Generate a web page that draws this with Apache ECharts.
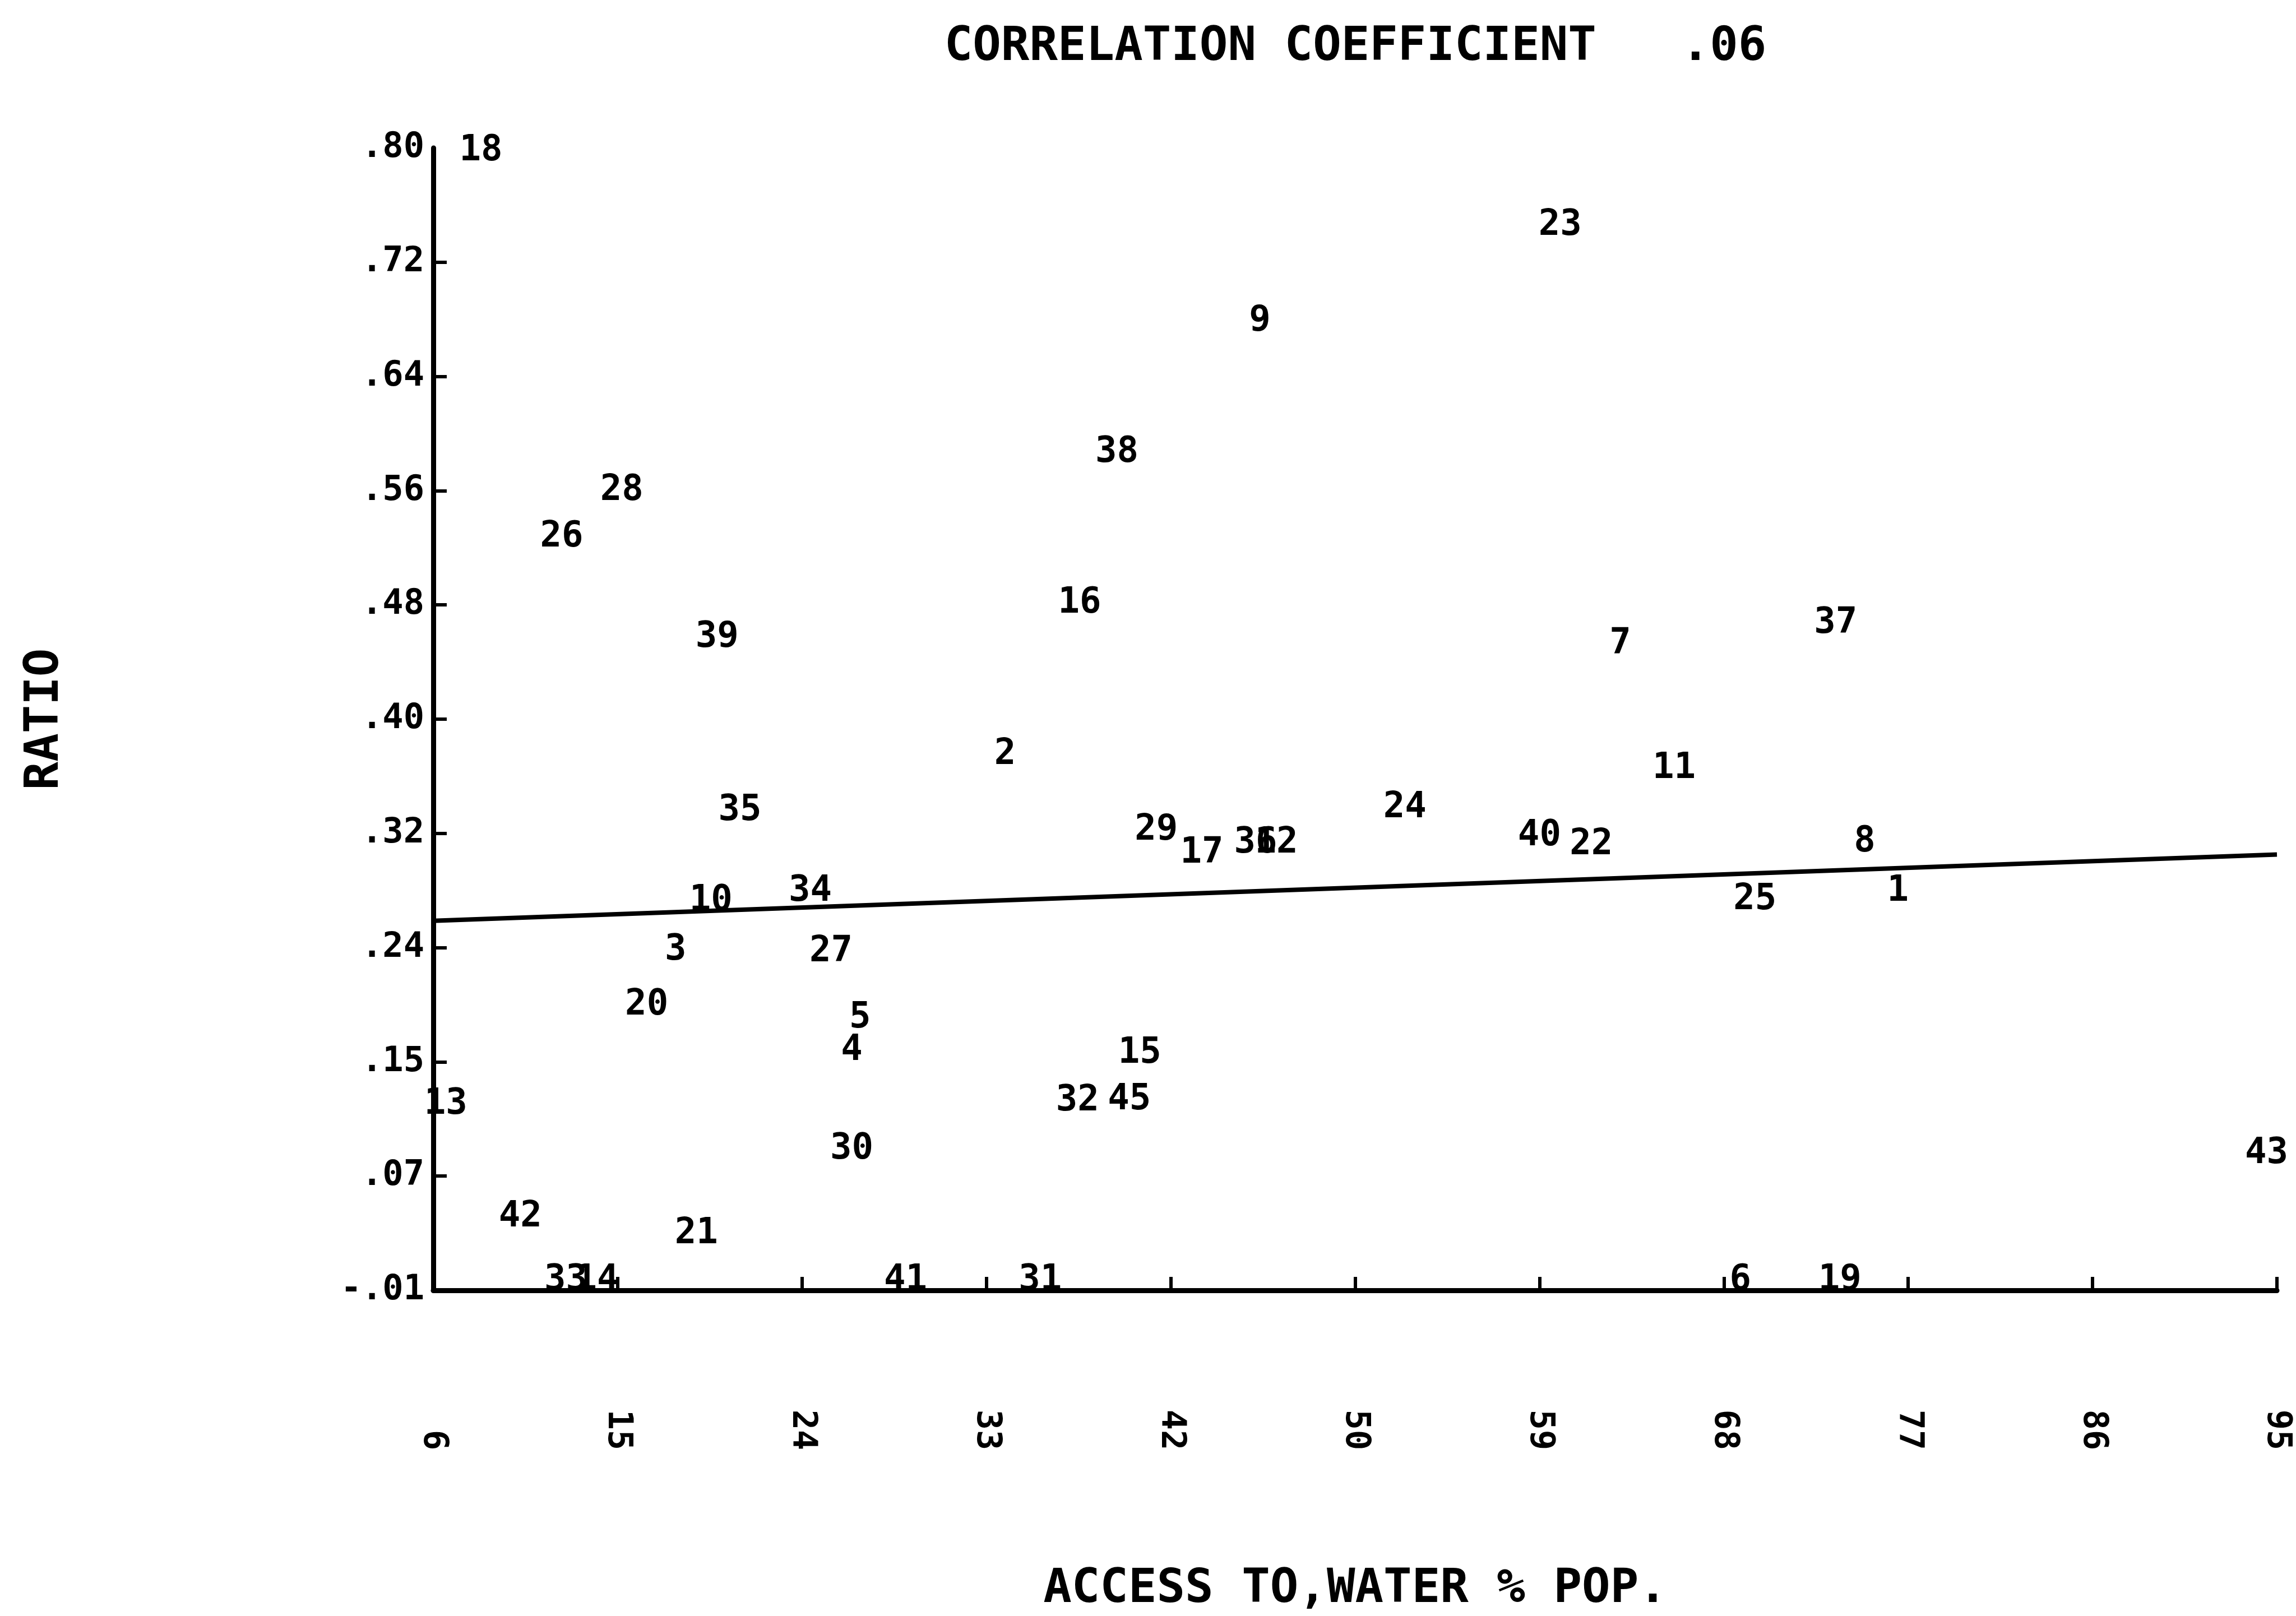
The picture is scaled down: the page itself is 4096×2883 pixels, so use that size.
<!DOCTYPE html>
<html>
<head>
<meta charset="utf-8">
<title>Ratio vs access to water</title>
<script src="https://cdn.jsdelivr.net/npm/echarts@6/dist/echarts.min.js"></script>
<style>
  html, body { margin: 0; padding: 0; background: #ffffff; }
  #chart { width: 4096px; height: 2883px; }
</style>
</head>
<body>
<div id="chart"></div>
<script>
// Country identifiers plotted as labels
const pointIds = [18, 23, 9, 38, 28, 26, 16, 39, 7, 37, 2, 11, 35, 24, 29, 17, 36, 12, 40, 22, 8,
  10, 34, 25, 1, 3, 27, 20, 5, 4, 15, 13, 32, 45, 30, 43, 42, 21, 33, 14, 41, 31, 6, 19];
// Access to water, % of population
const accessToWater = [8.3, 60.4, 45.9, 39.0, 15.1, 12.2, 37.2, 19.7, 63.3, 73.7, 33.6, 65.9, 20.8, 52.9, 40.9, 43.1, 45.7, 46.7, 59.4, 61.9, 75.1,
  19.4, 24.2, 69.8, 76.7, 17.7, 25.2, 16.3, 26.6, 26.2, 40.1, 6.6, 37.1, 39.6, 26.2, 94.5, 10.2, 18.7, 12.4, 13.9, 28.8, 35.3, 69.1, 73.9];
// Ratio
const ratio = [0.798, 0.745, 0.677, 0.584, 0.557, 0.524, 0.477, 0.453, 0.448, 0.463, 0.370, 0.360, 0.330, 0.332, 0.316, 0.300, 0.307, 0.307, 0.312, 0.306, 0.308,
  0.266, 0.273, 0.267, 0.273, 0.231, 0.230, 0.192, 0.183, 0.160, 0.158, 0.122, 0.124, 0.125, 0.090, 0.087, 0.042, 0.030, -0.003, -0.003, -0.003, -0.003, -0.003, -0.003];

// Least-squares line endpoints
const fitLine = [[6, 0.252], [95, 0.299]];

// Axis ticks and their printed labels
const xTickValues = [6, 14.9, 23.8, 32.7, 41.6, 50.5, 59.4, 68.3, 77.2, 86.1, 95];
const xTickLabels = ['6', '15', '24', '33', '42', '50', '59', '68', '77', '86', '95'];
const yTickValues = [-0.01, 0.071, 0.152, 0.233, 0.314, 0.395, 0.476, 0.557, 0.638, 0.719, 0.80];
const yTickLabels = ['-.01', '.07', '.15', '.24', '.32', '.40', '.48', '.56', '.64', '.72', '.80'];

const titleText = 'CORRELATION COEFFICIENT   .06';
const xName = 'ACCESS TO,WATER % POP.';
const yName = 'RATIO';

const MONO = '"DejaVu Sans Mono", "Liberation Mono", monospace';

function lookupLabel(values, labels, v) {
  let best = 0;
  for (let i = 1; i < values.length; i++) {
    if (Math.abs(values[i] - v) < Math.abs(values[best] - v)) best = i;
  }
  return labels[best];
}

const points = pointIds.map((id, i) => [accessToWater[i], ratio[i], id]);

const chart = echarts.init(document.getElementById('chart'), null, { renderer: 'canvas' });
chart.setOption({
  backgroundColor: '#ffffff',
  animation: false,
  title: {
    text: titleText,
    left: 2413,
    top: 38,
    textAlign: 'center',
    textStyle: { fontFamily: MONO, fontSize: 84, fontWeight: 'bold', color: '#000' }
  },
  grid: { left: 773, right: 34, top: 264, bottom: 574, containLabel: false },
  xAxis: {
    type: 'value',
    min: 6,
    max: 95,
    name: xName,
    nameLocation: 'middle',
    nameGap: 492,
    nameTextStyle: { fontFamily: MONO, fontSize: 84, fontWeight: 'bold', color: '#000' },
    axisLine: { show: true, onZero: false, lineStyle: { color: '#000', width: 9 } },
    axisTick: { show: true, inside: true, length: 24, customValues: xTickValues.slice(1),
      lineStyle: { color: '#000', width: 6 } },
    axisLabel: {
      show: true,
      customValues: xTickValues,
      rotate: -90,
      align: 'right',
      verticalAlign: 'middle',
      margin: 285,
      fontFamily: MONO,
      fontWeight: 'bold',
      fontSize: 60,
      color: '#000',
      formatter: v => lookupLabel(xTickValues, xTickLabels, v)
    },
    splitLine: { show: false }
  },
  yAxis: {
    type: 'value',
    min: -0.01,
    max: 0.80,
    name: yName,
    nameLocation: 'middle',
    nameRotate: 90,
    nameGap: 650,
    nameTextStyle: { fontFamily: MONO, fontSize: 84, fontWeight: 'bold', color: '#000' },
    axisLine: { show: true, onZero: false, lineStyle: { color: '#000', width: 9 } },
    axisTick: { show: true, inside: true, length: 24, customValues: yTickValues.slice(1, -1),
      lineStyle: { color: '#000', width: 6 } },
    axisLabel: {
      show: true,
      customValues: yTickValues,
      margin: 16,
      fontFamily: MONO,
      fontWeight: 'bold',
      fontSize: 62,
      color: '#000',
      formatter: v => lookupLabel(yTickValues, yTickLabels, v)
    },
    splitLine: { show: false }
  },
  series: [
    {
      type: 'line',
      data: fitLine,
      symbol: 'none',
      lineStyle: { color: '#000', width: 8 },
      z: 2
    },
    {
      type: 'scatter',
      data: points,
      symbolSize: 2,
      itemStyle: { color: '#ffffff', opacity: 1 },
      label: {
        show: true,
        position: [1, 1],
        align: 'center',
        verticalAlign: 'middle',
        formatter: p => String(p.data[2]),
        fontFamily: MONO,
        fontWeight: 'bold',
        fontSize: 64,
        color: '#000000',
        opacity: 1,
        textBorderWidth: 0
      },
      emphasis: { disabled: true },
      labelLayout: { hideOverlap: false },
      z: 3
    }
  ]
});
</script>
</body>
</html>
